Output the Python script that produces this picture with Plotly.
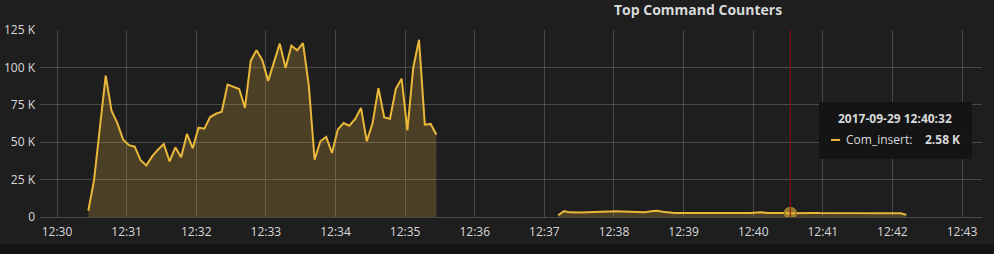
import plotly.graph_objects as go
import pandas as pd

# ---- data ----
series_name = "Com_insert"
run1_start = "2017-09-29 12:30:27"
run1_values_k = [4.2, 25, 60, 94.5, 71, 62.8, 51.7, 48, 47, 38, 34.5, 40.5, 45, 48.8, 37.2,
                 46.6, 40, 55.5, 45.9, 59.7, 59, 66.8, 69, 70.4, 88.5, 87.3, 85.6, 73, 104.5,
                 111.4, 104.7, 91, 103, 115.9, 99.6, 114.5, 111.4, 116.3, 88, 38.3, 50.6, 53.5,
                 42.8, 58.4, 62.8, 61, 65.5, 72.9, 50.6, 62.8, 86.2, 66.6, 65.7, 85.6, 92.5,
                 57.9, 99.6, 118.5, 61.7, 62.2, 55]
run2_start = "2017-09-29 12:37:12"
run2_values_k = [1.2, 3.9, 3.1, 2.9, 3.0, 3.1, 3.3, 3.4, 3.4, 3.6, 3.9, 3.7, 3.5, 3.8, 3.4,
                 3.2, 3.9, 4.1, 3.5, 2.9, 2.7, 2.6, 2.7, 2.6, 2.7, 2.8, 2.6, 2.7, 2.6, 2.7,
                 2.8, 2.6, 2.7, 2.6, 2.8, 3.2, 2.7, 2.8, 2.6, 2.7, 2.58, 2.7, 2.6, 2.5, 2.7,
                 2.6, 2.6, 2.8, 2.7, 2.6, 2.7, 2.6, 2.5, 2.7, 2.6, 2.7, 2.6, 2.7, 2.6, 2.5, 1.4]
step_seconds = 5
hover_time = "2017-09-29 12:40:32"
hover_value_k = 2.58
y_tickvals = [0, 25000, 50000, 75000, 100000, 125000]
y_ticktext = ["0", "25 K", "50 K", "75 K", "100 K", "125 K"]
x_range = ["2017-09-29 12:29:45.35", "2017-09-29 12:43:17.2"]
title = "Top Command Counters"

# ---- styles ----
LINE = "#eab839"
FILL = "rgba(234,184,57,0.22)"
BG = "#1f1e1f"
GRID = "rgba(255,255,255,0.19)"
TXT = "#d8d9da"
FONT = "Open Sans"

def times(start, n):
    return pd.date_range(start=start, periods=n, freq=f"{step_seconds}s")

fig = go.Figure()
for start, vals in [(run1_start, run1_values_k), (run2_start, run2_values_k)]:
    fig.add_trace(go.Scatter(
        x=times(start, len(vals)), y=[v * 1000 for v in vals],
        mode="lines", name=series_name, line=dict(color=LINE, width=2),
        fill="tozeroy", fillcolor=FILL, hoverinfo="skip"))

# hover marker
fig.add_trace(go.Scatter(
    x=[pd.Timestamp(hover_time)], y=[hover_value_k * 1000], mode="markers",
    marker=dict(size=11, color="rgba(234,184,57,0.55)",
                line=dict(color="rgba(160,130,45,1)", width=2)),
    hoverinfo="skip"))

# crosshair
fig.add_shape(type="line", xref="x", yref="paper", x0=hover_time, x1=hover_time,
              y0=0, y1=1, line=dict(color="#8b0f0f", width=1))

# bottom dark strip
fig.add_shape(type="rect", xref="paper", yref="paper", x0=-0.1, x1=1.1,
              y0=-0.3, y1=-0.1444, fillcolor="#141414", line=dict(width=0), layer="below")

# tooltip box
fig.add_shape(type="rect", xref="paper", yref="paper", x0=0.827, x1=0.9894,
              y0=0.310, y1=0.615, fillcolor="#141414", line=dict(width=0))
fig.add_annotation(xref="paper", yref="paper", x=0.9076, y=0.529, text="<b>2017-09-29 12:40:32</b>",
                   showarrow=False, font=dict(family=FONT, size=12, color=TXT), xanchor="center", yanchor="middle")
fig.add_shape(type="line", xref="paper", yref="paper", x0=0.8397, x1=0.8493,
              y0=0.412, y1=0.412, line=dict(color=LINE, width=2))
fig.add_annotation(xref="paper", yref="paper", x=0.8535, y=0.412, text=f"{series_name}:",
                   showarrow=False, font=dict(family=FONT, size=12, color=TXT), xanchor="left", yanchor="middle")
fig.add_annotation(xref="paper", yref="paper", x=0.9788, y=0.412, text=f"<b>{hover_value_k} K</b>",
                   showarrow=False, font=dict(family=FONT, size=12, color=TXT), xanchor="right", yanchor="middle")

# title
fig.add_annotation(xref="paper", yref="paper", x=0.6985, y=1.107, text=f"<b>{title}</b>",
                   showarrow=False, font=dict(family=FONT, size=14, color=TXT), xanchor="center", yanchor="middle")

fig.update_layout(
    width=994, height=254, margin=dict(l=40, r=12, t=30, b=37, autoexpand=False),
    paper_bgcolor=BG, plot_bgcolor=BG, showlegend=False, hovermode=False,
    font=dict(family=FONT, size=12, color=TXT),
    xaxis=dict(type="date", range=x_range, dtick=60000, tickformat="%H:%M",
               showgrid=True, gridcolor=GRID, gridwidth=1, zeroline=False,
               showline=True, linecolor=GRID, ticks="", ticklabelstandoff=4,
               automargin=False, tickfont=dict(size=12, color=TXT)),
    yaxis=dict(range=[0, 125000], tickvals=y_tickvals, ticktext=y_ticktext,
               showgrid=True, gridcolor=GRID, gridwidth=1, zeroline=False,
               showline=False, ticks="", ticklabelstandoff=4,
               automargin=False, tickfont=dict(size=12, color=TXT)),
)

fig.write_html("out.html")
